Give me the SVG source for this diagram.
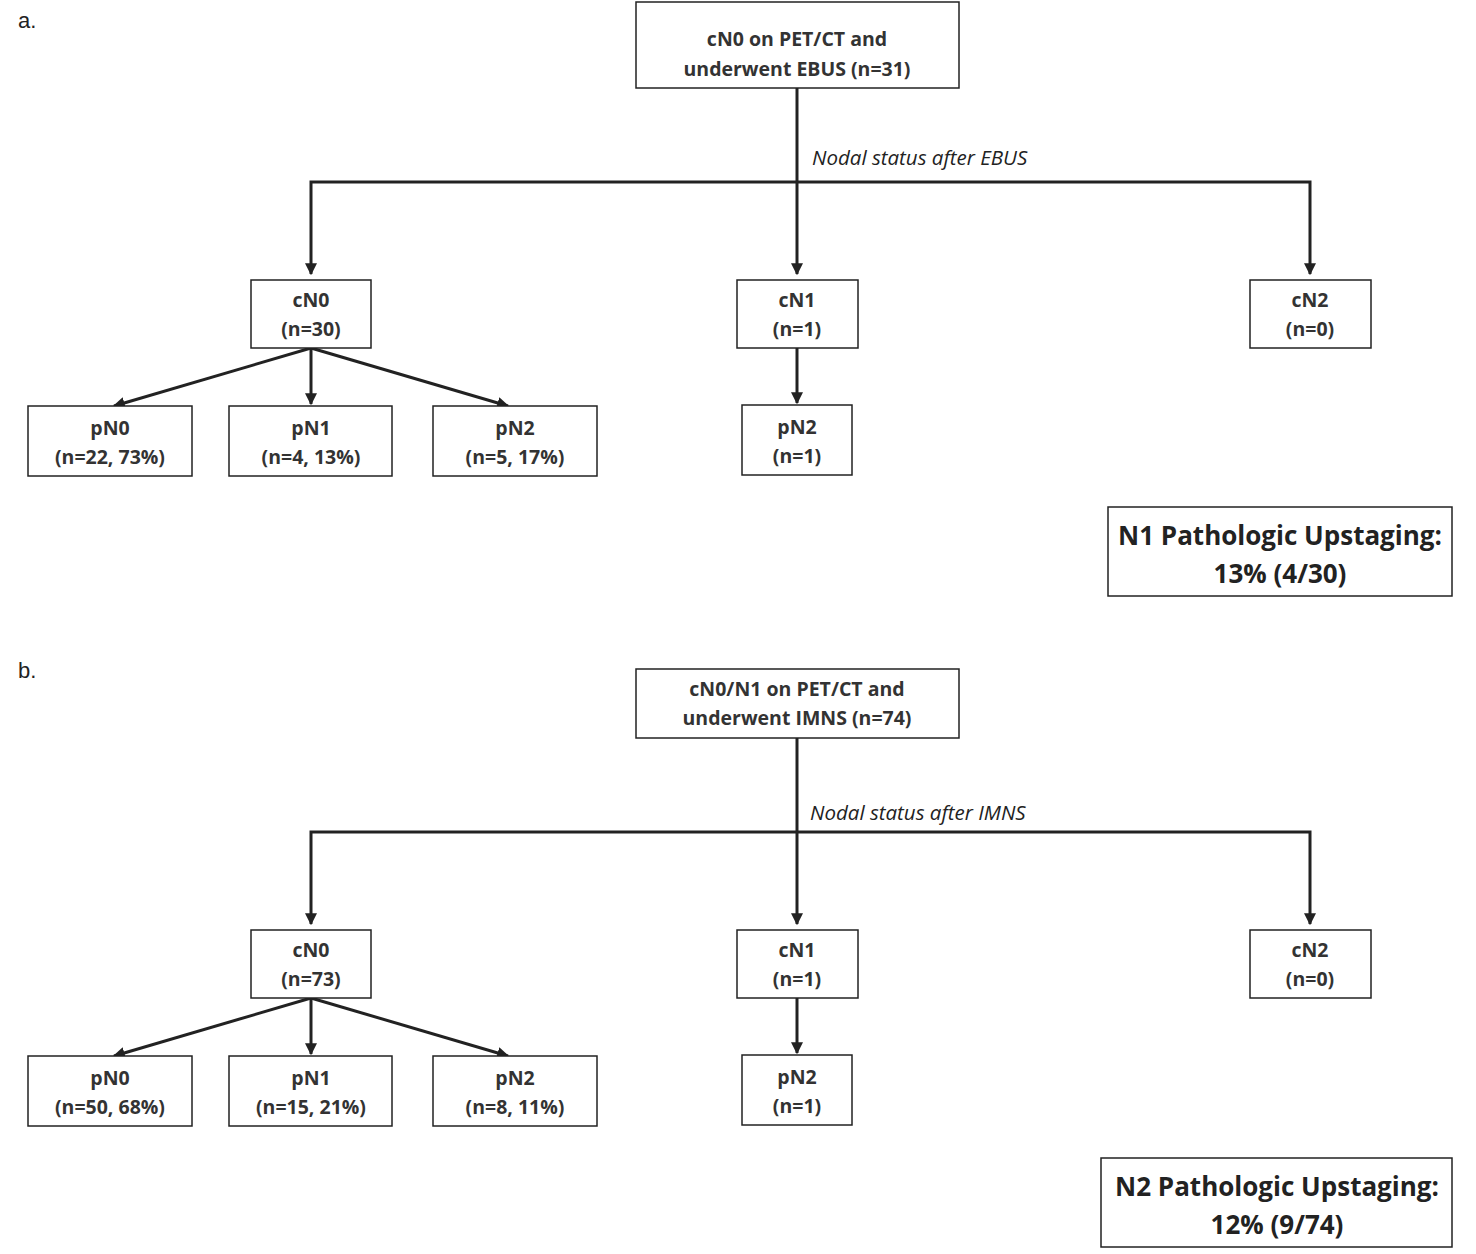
<svg xmlns="http://www.w3.org/2000/svg" width="1476" height="1254" viewBox="0 0 1476 1254">
<style>
.b{fill:#fff;stroke:#222;stroke-width:1.5}
.t{font-family:"Open Sans","Liberation Sans",sans-serif;font-weight:bold;font-size:19.5px;fill:#333;text-anchor:middle}
.s{font-family:"Open Sans","Liberation Sans",sans-serif;font-weight:bold;font-size:26px;fill:#222;text-anchor:middle}
.i{font-family:"Open Sans","Liberation Sans",sans-serif;font-style:italic;font-size:20.5px;fill:#222}
.p{font-family:"Liberation Sans",sans-serif;font-size:22px;fill:#222}
.c line,.c polyline{stroke:#222;stroke-width:3;fill:none;marker-end:url(#a)}
.c .n{marker-end:none}
</style>
<defs><marker id="a" viewBox="0 0 10 10" refX="9" refY="5" markerWidth="4" markerHeight="4" orient="auto"><path d="M0,0L10,5L0,10z" fill="#222"/></marker></defs>
<rect width="1476" height="1254" fill="#fff"/>
<g id="panelA">
<text class="p" x="18" y="28">a.</text>
<g class="c" id="connA">
<line class="n" x1="797" y1="88" x2="797" y2="182"/>
<polyline points="797,182 311,182 311,274"/>
<line x1="797" y1="182" x2="797" y2="274"/>
<polyline points="797,182 1310,182 1310,274"/>
<line x1="311" y1="348" x2="114" y2="406"/>
<line x1="311" y1="348" x2="311" y2="404"/>
<line x1="311" y1="348" x2="508" y2="406"/>
<line x1="797" y1="348" x2="797" y2="403"/>
</g>
<text class="i" x="812" y="165">Nodal status after EBUS</text>
<g id="a_top"><rect class="b" x="636" y="2" width="323" height="86"/><text class="t" x="797" y="46">cN0 on PET/CT and</text><text class="t" x="797" y="76">underwent EBUS (n=31)</text></g>
<g id="a_cn0"><rect class="b" x="251" y="280" width="120" height="68"/><text class="t" x="311" y="307">cN0</text><text class="t" x="311" y="336">(n=30)</text></g>
<g id="a_cn1"><rect class="b" x="737" y="280" width="121" height="68"/><text class="t" x="797" y="307">cN1</text><text class="t" x="797" y="336">(n=1)</text></g>
<g id="a_cn2"><rect class="b" x="1250" y="280" width="121" height="68"/><text class="t" x="1310" y="307">cN2</text><text class="t" x="1310" y="336">(n=0)</text></g>
<g id="a_pn0"><rect class="b" x="28" y="406" width="164" height="70"/><text class="t" x="110" y="435">pN0</text><text class="t" x="110" y="464">(n=22, 73%)</text></g>
<g id="a_pn1"><rect class="b" x="229" y="406" width="163" height="70"/><text class="t" x="311" y="435">pN1</text><text class="t" x="311" y="464">(n=4, 13%)</text></g>
<g id="a_pn2"><rect class="b" x="433" y="406" width="164" height="70"/><text class="t" x="515" y="435">pN2</text><text class="t" x="515" y="464">(n=5, 17%)</text></g>
<g id="a_pn2b"><rect class="b" x="742" y="405" width="110" height="70"/><text class="t" x="797" y="434">pN2</text><text class="t" x="797" y="463">(n=1)</text></g>
<g id="a_sum"><rect class="b" x="1108" y="507" width="344" height="89"/><text class="s" x="1280" y="545">N1 Pathologic Upstaging:</text><text class="s" x="1280" y="583">13% (4/30)</text></g>
</g>
<g id="panelB" transform="translate(0,650)">
<text class="p" x="18" y="28">b.</text>
<g class="c" id="connB">
<line class="n" x1="797" y1="88" x2="797" y2="182"/>
<polyline points="797,182 311,182 311,274"/>
<line x1="797" y1="182" x2="797" y2="274"/>
<polyline points="797,182 1310,182 1310,274"/>
<line x1="311" y1="348" x2="114" y2="406"/>
<line x1="311" y1="348" x2="311" y2="404"/>
<line x1="311" y1="348" x2="508" y2="406"/>
<line x1="797" y1="348" x2="797" y2="403"/>
</g>
<text class="i" x="810" y="170">Nodal status after IMNS</text>
<g id="b_top"><rect class="b" x="636" y="19" width="323" height="69"/><text class="t" x="797" y="46">cN0/N1 on PET/CT and</text><text class="t" x="797" y="75">underwent IMNS (n=74)</text></g>
<g id="b_cn0"><rect class="b" x="251" y="280" width="120" height="68"/><text class="t" x="311" y="307">cN0</text><text class="t" x="311" y="336">(n=73)</text></g>
<g id="b_cn1"><rect class="b" x="737" y="280" width="121" height="68"/><text class="t" x="797" y="307">cN1</text><text class="t" x="797" y="336">(n=1)</text></g>
<g id="b_cn2"><rect class="b" x="1250" y="280" width="121" height="68"/><text class="t" x="1310" y="307">cN2</text><text class="t" x="1310" y="336">(n=0)</text></g>
<g id="b_pn0"><rect class="b" x="28" y="406" width="164" height="70"/><text class="t" x="110" y="435">pN0</text><text class="t" x="110" y="464">(n=50, 68%)</text></g>
<g id="b_pn1"><rect class="b" x="229" y="406" width="163" height="70"/><text class="t" x="311" y="435">pN1</text><text class="t" x="311" y="464">(n=15, 21%)</text></g>
<g id="b_pn2"><rect class="b" x="433" y="406" width="164" height="70"/><text class="t" x="515" y="435">pN2</text><text class="t" x="515" y="464">(n=8, 11%)</text></g>
<g id="b_pn2b"><rect class="b" x="742" y="405" width="110" height="70"/><text class="t" x="797" y="434">pN2</text><text class="t" x="797" y="463">(n=1)</text></g>
<g id="b_sum"><rect class="b" x="1101" y="508" width="351" height="89"/><text class="s" x="1277" y="546">N2 Pathologic Upstaging:</text><text class="s" x="1277" y="584">12% (9/74)</text></g>
</g>
</svg>
